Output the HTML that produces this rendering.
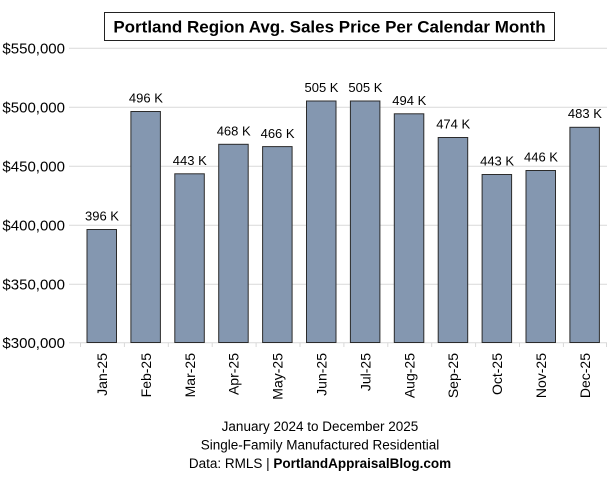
<!DOCTYPE html>
<html>
<head>
<meta charset="utf-8">
<style>
  html, body { margin: 0; padding: 0; background: #ffffff; }
  body { width: 607px; height: 480px; overflow: hidden; }
  svg { display: block; font-family: "Liberation Sans", Arial, sans-serif; }
</style>
</head>
<body>
<svg width="607" height="480" viewBox="0 0 607 480" xmlns="http://www.w3.org/2000/svg">
  <rect x="0" y="0" width="607" height="480" fill="#ffffff"/>

  <!-- Title box -->
  <rect x="104.5" y="12.5" width="450" height="28" fill="#ffffff" stroke="#222222" stroke-width="1"/>
  <text x="329.5" y="32.5" text-anchor="middle" font-size="17" font-weight="bold" fill="#000000">Portland Region Avg. Sales Price Per Calendar Month</text>

  <!-- Gridlines -->
  <g stroke="#d9d9d9" stroke-width="1">
    <line x1="69" y1="48.3" x2="607" y2="48.3"/>
    <line x1="69" y1="107.3" x2="607" y2="107.3"/>
    <line x1="69" y1="166.3" x2="607" y2="166.3"/>
    <line x1="69" y1="225.3" x2="607" y2="225.3"/>
    <line x1="69" y1="284.3" x2="607" y2="284.3"/>
    <line x1="69" y1="342.8" x2="607" y2="342.8"/>
  </g>

  <!-- Tick marks -->
  <g stroke="#d9d9d9" stroke-width="1">
    <line x1="80.5" y1="342.5" x2="80.5" y2="347"/>
    <line x1="124.4" y1="342.5" x2="124.4" y2="347"/>
    <line x1="168.3" y1="342.5" x2="168.3" y2="347"/>
    <line x1="212.2" y1="342.5" x2="212.2" y2="347"/>
    <line x1="256.1" y1="342.5" x2="256.1" y2="347"/>
    <line x1="300" y1="342.5" x2="300" y2="347"/>
    <line x1="343.9" y1="342.5" x2="343.9" y2="347"/>
    <line x1="387.8" y1="342.5" x2="387.8" y2="347"/>
    <line x1="431.7" y1="342.5" x2="431.7" y2="347"/>
    <line x1="475.6" y1="342.5" x2="475.6" y2="347"/>
    <line x1="519.5" y1="342.5" x2="519.5" y2="347"/>
    <line x1="563.4" y1="342.5" x2="563.4" y2="347"/>
    <line x1="606.5" y1="342.5" x2="606.5" y2="347"/>
  </g>

  <!-- Y-axis labels -->
  <g font-size="15" fill="#000000" text-anchor="end">
    <text x="65" y="53.5">$550,000</text>
    <text x="65" y="112.5">$500,000</text>
    <text x="65" y="171.5">$450,000</text>
    <text x="65" y="230.5">$400,000</text>
    <text x="65" y="289.5">$350,000</text>
    <text x="65" y="348">$300,000</text>
  </g>

  <!-- Bars -->
  <g fill="#8497b0" stroke="#2b2b2b" stroke-width="1">
    <rect x="87" y="229.5" width="29.5" height="113"/>
    <rect x="130.9" y="111.5" width="29.5" height="231"/>
    <rect x="174.8" y="173.8" width="29.5" height="168.7"/>
    <rect x="218.7" y="144.3" width="29.5" height="198.2"/>
    <rect x="262.6" y="146.6" width="29.5" height="195.9"/>
    <rect x="306.5" y="101" width="29.5" height="241.5"/>
    <rect x="350.4" y="101" width="29.5" height="241.5"/>
    <rect x="394.3" y="113.8" width="29.5" height="228.7"/>
    <rect x="438.2" y="137.5" width="29.5" height="205"/>
    <rect x="482.1" y="174.5" width="29.5" height="168"/>
    <rect x="526" y="170.5" width="29.5" height="172"/>
    <rect x="569.9" y="127.3" width="29.5" height="215.2"/>
  </g>

  <!-- Data labels -->
  <g font-size="13" fill="#000000" text-anchor="middle">
    <text x="102" y="220.5">396 K</text>
    <text x="145.9" y="102.5">496 K</text>
    <text x="189.8" y="165">443 K</text>
    <text x="233.7" y="135.5">468 K</text>
    <text x="277.6" y="138">466 K</text>
    <text x="321.5" y="92">505 K</text>
    <text x="365.4" y="92">505 K</text>
    <text x="409.3" y="105">494 K</text>
    <text x="453.2" y="128.5">474 K</text>
    <text x="497.1" y="165.5">443 K</text>
    <text x="541" y="161.5">446 K</text>
    <text x="584.9" y="118">483 K</text>
  </g>

  <!-- X-axis labels (rotated) -->
  <g font-size="14" fill="#000000" text-anchor="end">
    <text transform="translate(107,353) rotate(-90)">Jan-25</text>
    <text transform="translate(150.9,353) rotate(-90)">Feb-25</text>
    <text transform="translate(194.8,353) rotate(-90)">Mar-25</text>
    <text transform="translate(238.7,353) rotate(-90)">Apr-25</text>
    <text transform="translate(282.6,353) rotate(-90)">May-25</text>
    <text transform="translate(326.5,353) rotate(-90)">Jun-25</text>
    <text transform="translate(370.4,353) rotate(-90)">Jul-25</text>
    <text transform="translate(414.3,353) rotate(-90)">Aug-25</text>
    <text transform="translate(458.2,353) rotate(-90)">Sep-25</text>
    <text transform="translate(502.1,353) rotate(-90)">Oct-25</text>
    <text transform="translate(546,353) rotate(-90)">Nov-25</text>
    <text transform="translate(589.9,353) rotate(-90)">Dec-25</text>
  </g>

  <!-- Footer -->
  <g font-size="13.5" fill="#000000" text-anchor="middle">
    <text x="320" y="431">January 2024 to December 2025</text>
    <text x="320" y="449.5">Single-Family Manufactured Residential</text>
    <text x="320" y="468">Data: RMLS | <tspan font-weight="bold">PortlandAppraisalBlog.com</tspan></text>
  </g>
</svg>
</body>
</html>
